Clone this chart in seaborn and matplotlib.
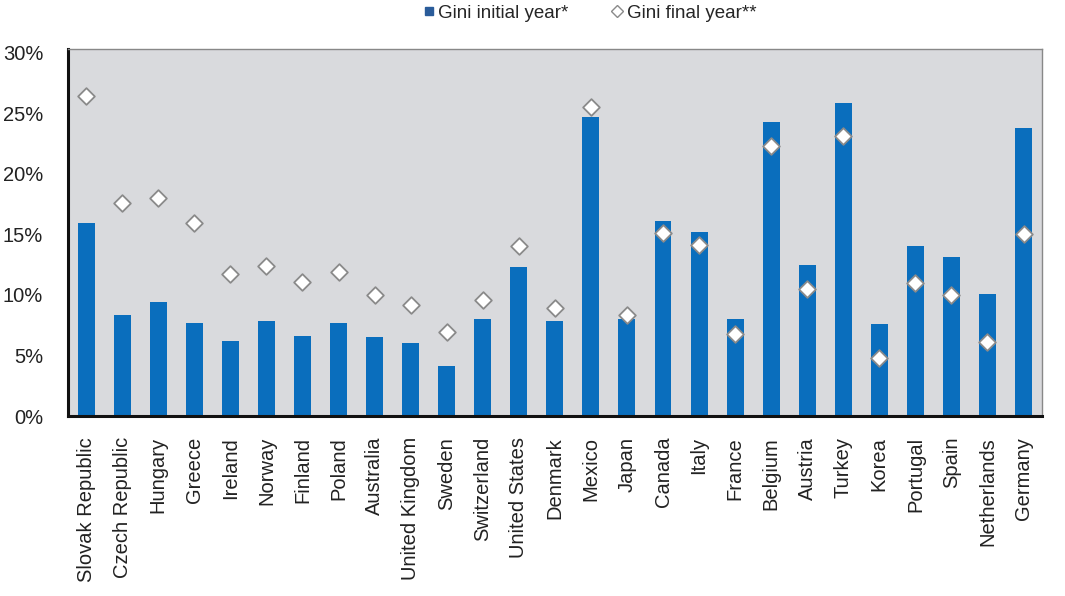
import matplotlib
matplotlib.use("Agg")
import matplotlib.pyplot as plt
import seaborn as sns
import pandas as pd
from matplotlib.lines import Line2D
from matplotlib.ticker import FuncFormatter

countries = ["Slovak Republic", "Czech Republic", "Hungary", "Greece", "Ireland", "Norway",
             "Finland", "Poland", "Australia", "United Kingdom", "Sweden", "Switzerland",
             "United States", "Denmark", "Mexico", "Japan", "Canada", "Italy", "France",
             "Belgium", "Austria", "Turkey", "Korea", "Portugal", "Spain", "Netherlands", "Germany"]
gini_initial = [15.9, 8.3, 9.4, 7.7, 6.2, 7.85, 6.6, 7.7, 6.55, 6.05, 4.1, 8.0,
                12.3, 7.85, 24.7, 8.0, 16.1, 15.2, 8.0, 24.3, 12.5, 25.8, 7.6, 14.05, 13.1, 10.1, 23.8]
gini_final = [26.4, 17.6, 18.0, 15.9, 11.7, 12.4, 11.05, 11.9, 10.0, 9.2, 6.9, 9.6,
              14.0, 8.9, 25.5, 8.3, 15.1, 14.1, 6.8, 22.3, 10.5, 23.1, 4.8, 11.0, 10.0, 6.1, 15.0]
yticks = [0, 5, 10, 15, 20, 25, 30]

df = pd.DataFrame({"country": countries, "initial": gini_initial, "final": gini_final})

sns.set_style("white")
plt.rcParams["font.family"] = ["Liberation Sans", "DejaVu Sans"]

fig, ax = plt.subplots(figsize=(10.65, 5.96), dpi=100)
fig.subplots_adjust(left=0.064, right=0.978, top=0.918, bottom=0.302)

bar_color = "#0a6ebd"
sns.barplot(data=df, x="country", y="initial", color=bar_color, saturation=1,
            width=0.47, ax=ax, order=countries, linewidth=0, edgecolor=bar_color)
sns.stripplot(data=df, x="country", y="final", order=countries, jitter=False,
              marker="D", color="white", edgecolor="#8a8a8a", linewidth=1.3, size=8.5,
              ax=ax, zorder=5)

ax.set_facecolor("#d9dadd")
ax.set_ylim(0, 30.3)
ax.set_xlim(-0.5, len(countries) - 0.5)
ax.set_yticks(yticks)
ax.yaxis.set_major_formatter(FuncFormatter(lambda v, p: f"{v:.0f}%"))
ax.set_xlabel("")
ax.set_ylabel("")
ax.tick_params(axis="x", labelrotation=90, labelsize=14.5, length=0, pad=15)
ax.tick_params(axis="y", labelsize=14.5, length=0, pad=18)
for lbl in ax.get_yticklabels():
    lbl.set_color("#222222")
for lbl in ax.get_xticklabels():
    lbl.set_color("#222222")

for side in ["left", "bottom"]:
    ax.spines[side].set_color("#111111")
    ax.spines[side].set_linewidth(2.2)
for side in ["top", "right"]:
    ax.spines[side].set_color("#888888")
    ax.spines[side].set_linewidth(1.0)

handles = [
    Line2D([0], [0], marker="s", linestyle="none", markerfacecolor="#2a5c9a",
           markeredgecolor="#2a5c9a", markersize=6),
    Line2D([0], [0], marker="D", linestyle="none", markerfacecolor="white",
           markeredgecolor="#8a8a8a", markersize=6),
]
fig.legend(handles, ["Gini initial year*", "Gini final year**"], loc="center",
           bbox_to_anchor=(0.553, 0.978), ncol=2, frameon=False, fontsize=13.5,
           handletextpad=0.1, columnspacing=2.2, handlelength=0.8)

fig.savefig("out.png", dpi=100)
